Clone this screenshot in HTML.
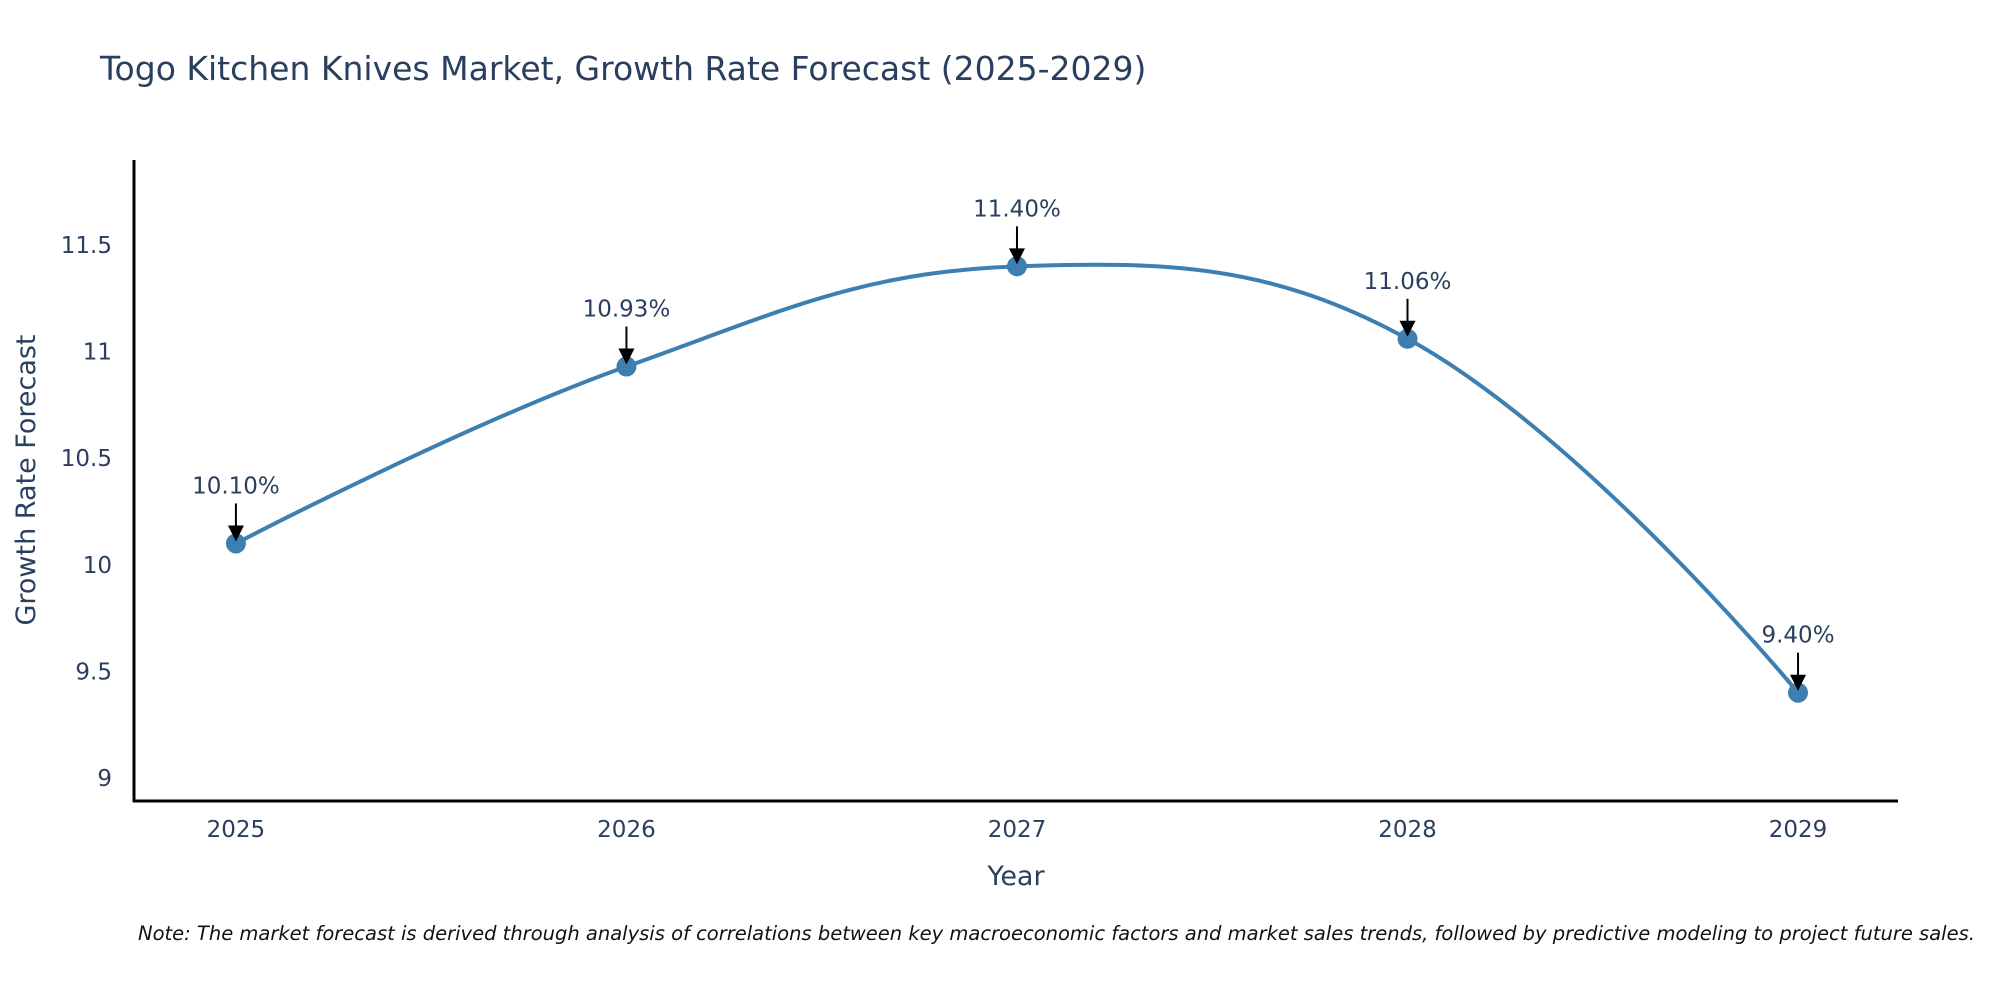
<!DOCTYPE html>
<html><head><meta charset="utf-8"><style>
body{margin:0;background:#fff;}
svg text{font-family:"DejaVu Sans","Liberation Sans",sans-serif;fill:#2a3f5f;}
</style></head><body>
<svg id="chart" width="2000" height="1000" viewBox="0 0 2000 1000">
<text x="100" y="80" font-size="33">Togo Kitchen Knives Market, Growth Rate Forecast (2025-2029)</text>
<g id="yticks"></g>
<g id="xticks"></g>
<path id="line" fill="none" stroke="#3d7fb0" stroke-width="4"></path>
<g id="marks"></g>
<g id="annos"></g>
<line x1="134" y1="160" x2="134" y2="802" stroke="#000" stroke-width="3"/>
<line x1="133" y1="801" x2="1898" y2="801" stroke="#000" stroke-width="3"/>
<text x="1016" y="885" font-size="27" text-anchor="middle">Year</text>
<text transform="translate(35,480) rotate(-90)" font-size="27" text-anchor="middle">Growth Rate Forecast</text>
<text x="138" y="940" font-size="19.5" font-style="italic" style="fill:#111">Note: The market forecast is derived through analysis of correlations between key macroeconomic factors and market sales trends, followed by predictive modeling to project future sales.</text>
</svg>
<script>
const years=[2025,2026,2027,2028,2029];
const rates=[10.10,10.93,11.40,11.06,9.40];
const labels=["10.10%","10.93%","11.40%","11.06%","9.40%"];
const yTicks=[9,9.5,10,10.5,11,11.5];
const yTickLabels=["9","9.5","10","10.5","11","11.5"];

const NS="http://www.w3.org/2000/svg";
const xMin=2024.739,xMax=2029.256,pxL=134,pxR=1898;
const yMin=8.892,yMax=11.894,pyB=801,pyT=161;
function X(v){return pxL+(v-xMin)/(xMax-xMin)*(pxR-pxL);}
function Y(v){return pyB-(v-yMin)/(yMax-yMin)*(pyB-pyT);}
function mk(tag,attrs,parent){const e=document.createElementNS(NS,tag);for(const k in attrs)e.setAttribute(k,attrs[k]);parent.appendChild(e);return e;}

const yg=document.getElementById('yticks');
yTicks.forEach((t,i)=>{
  const e=mk('text',{x:112,y:Y(t)+8,'font-size':23,'text-anchor':'end'},yg);
  
  
  e.textContent=yTickLabels[i];
});
const xg=document.getElementById('xticks');
years.forEach(yr=>{
  const e=mk('text',{x:X(yr),y:837,'font-size':23,'text-anchor':'middle'},xg);
  
  
  e.textContent=String(yr);
});

const pts=years.map((yr,i)=>[X(yr),Y(rates[i])]);
const s=0.4;
const ctrl=pts.map((p,i)=>{
  if(i===0||i===pts.length-1)return [p,p];
  const a=pts[i-1],b=pts[i+1];
  const d1=Math.hypot(p[0]-a[0],p[1]-a[1]),d2=Math.hypot(b[0]-p[0],b[1]-p[1]);
  const vx=b[0]-a[0],vy=b[1]-a[1];
  const f1=s*d1/(d1+d2),f2=s*d2/(d1+d2);
  return [[p[0]-vx*f1,p[1]-vy*f1],[p[0]+vx*f2,p[1]+vy*f2]];
});
let d=`M${pts[0][0]},${pts[0][1]}`;
for(let i=1;i<pts.length;i++){
  const c1=ctrl[i-1][1],c2=ctrl[i][0];
  d+=` C${c1[0]},${c1[1]} ${c2[0]},${c2[1]} ${pts[i][0]},${pts[i][1]}`;
}
document.getElementById('line').setAttribute('d',d);

const mg=document.getElementById('marks'),ag=document.getElementById('annos');
pts.forEach((p,i)=>{
  const c=mk('circle',{cx:p[0],cy:p[1],r:10,fill:'#3d7fb0'},mg);
  
  
  const l=mk('line',{x1:p[0],y1:p[1]-40,x2:p[0],y2:p[1]-14,stroke:'#000','stroke-width':2},ag);
  
  
  const h=mk('polygon',{points:`${p[0]-8},${p[1]-18} ${p[0]+8},${p[1]-18} ${p[0]},${p[1]-2}`,fill:'#000'},ag);
  
  
  const t=mk('text',{x:p[0],y:p[1]-50,'font-size':23,'text-anchor':'middle'},ag);
  
  
  t.textContent=labels[i];
});
</script>
</body></html>
